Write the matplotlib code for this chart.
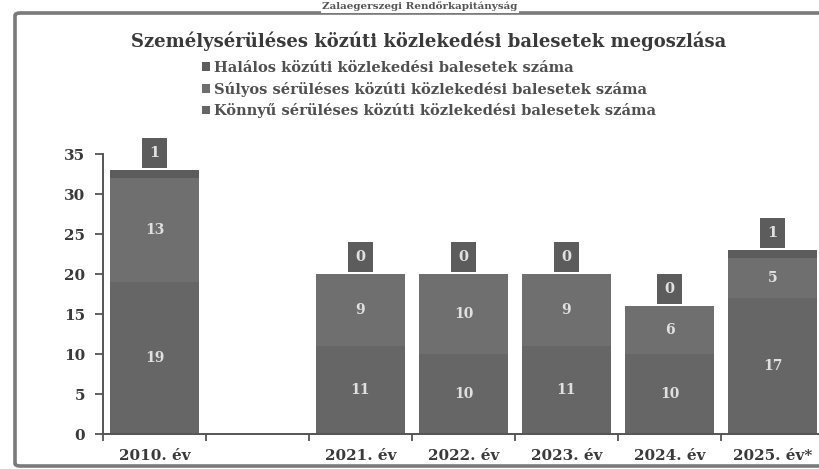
import numpy as np
import matplotlib
matplotlib.use("Agg")
import matplotlib.pyplot as plt
from matplotlib.patches import FancyBboxPatch, Rectangle
from matplotlib.ticker import FixedLocator

categories = ["2010. év", "", "2021. év", "2022. év", "2023. év", "2024. év", "2025. év*"]
konnyu = [19, np.nan, 11, 10, 11, 10, 17]
sulyos = [13, np.nan, 9, 10, 9, 6, 5]
halalos = [1, np.nan, 0, 0, 0, 0, 1]
series_names = ["Halálos közúti közlekedési balesetek száma",
                "Súlyos sérüléses közúti közlekedési balesetek száma",
                "Könnyű sérüléses közúti közlekedési balesetek száma"]
title = "Személysérüléses közúti közlekedési balesetek megoszlása"
header = "Zalaegerszegi Rendőrkapitányság"

c_light = "#666666"
c_severe = "#6f6f6f"
c_fatal = "#5c5c5c"
txt = "#3a3a3a"
serif = ["DejaVu Serif"]

W, H = 820, 469
fig = plt.figure(figsize=(W / 100, H / 100), dpi=100)
fig.patch.set_facecolor("white")

# scanned frame
frame = FancyBboxPatch((15 / W, 3 / H), 1.2, (H - 13) / H - 3 / H,
                       boxstyle="round,pad=0,rounding_size=0.006",
                       transform=fig.transFigure, fill=False,
                       edgecolor="#7a7a7a", linewidth=2.6, clip_on=False)
fig.patches.append(frame)
fig.text(420 / W, (H - 9) / H, header, ha="center", va="baseline",
         fontsize=7.5, fontweight="bold", family=serif, color="#555555",
         bbox=dict(boxstyle="square,pad=0.15", fc="white", ec="none"))

ax = fig.add_axes([103 / W, 35 / H, 721 / W, 280 / H])
x = np.arange(len(categories))
k = np.array(konnyu, dtype=float)
s = np.array(sulyos, dtype=float)
f = np.array(halalos, dtype=float)
w = 0.86
ax.bar(x, k, width=w, color=c_light, label=series_names[2])
ax.bar(x, s, width=w, bottom=k, color=c_severe, label=series_names[1])
ax.bar(x, f, width=w, bottom=k + s, color=c_fatal, label=series_names[0])

box_w, box_h, gap = 0.24, 3.8, 0.25
for i in range(len(categories)):
    if np.isnan(k[i]):
        continue
    ax.text(x[i], k[i] / 2, f"{int(k[i])}", ha="center", va="center",
            color="#e0e0e0", fontsize=10, fontweight="bold", family=serif)
    ax.text(x[i], k[i] + s[i] / 2, f"{int(s[i])}", ha="center", va="center",
            color="#e0e0e0", fontsize=10, fontweight="bold", family=serif)
    top = k[i] + s[i] + f[i] + gap
    ax.add_patch(Rectangle((x[i] - box_w / 2, top), box_w, box_h,
                           facecolor=c_fatal, edgecolor="none", clip_on=False))
    ax.text(x[i], top + box_h / 2, f"{int(f[i])}", ha="center", va="center",
            color="#e0e0e0", fontsize=10.5, fontweight="bold", family=serif,
            clip_on=False)

ax.set_xlim(-0.5, 6.5)
ax.set_ylim(0, 35)
ax.set_yticks(np.arange(0, 36, 5))
ax.set_xticks(x)
ax.set_xticklabels(categories)
ax.xaxis.set_minor_locator(FixedLocator(np.arange(-0.5, 7, 1)))
ax.tick_params(axis="x", which="major", length=0, pad=11)
ax.tick_params(axis="x", which="minor", length=5, width=1.3, color="#555555", direction="out")
ax.tick_params(axis="y", length=6, width=1.3, color="#555555", direction="out", pad=7)
for lab in ax.get_xticklabels() + ax.get_yticklabels():
    lab.set_family(serif)
    lab.set_fontweight("bold")
    lab.set_fontsize(11)
    lab.set_color(txt)
for sp in ["top", "right"]:
    ax.spines[sp].set_visible(False)
for sp in ["left", "bottom"]:
    ax.spines[sp].set_color("#555555")
    ax.spines[sp].set_linewidth(1.4)
ax.set_facecolor("none")

fig.text(429 / W, (H - 41) / H, title, ha="center", va="center",
         fontsize=13, fontweight="bold", family=serif, color=txt)

handles, labels = ax.get_legend_handles_labels()
leg = fig.legend(handles[::-1], labels[::-1], loc="upper left",
                 bbox_to_anchor=(202 / W, (H - 61) / H), frameon=False,
                 handlelength=0.55, handleheight=0.55, handletextpad=0.3,
                 labelspacing=0.45, borderpad=0, borderaxespad=0,
                 prop=dict(family=serif, weight="bold", size=10.5))
for t in leg.get_texts():
    t.set_color("#505050")

fig.savefig("out.png", dpi=100, facecolor="white")
